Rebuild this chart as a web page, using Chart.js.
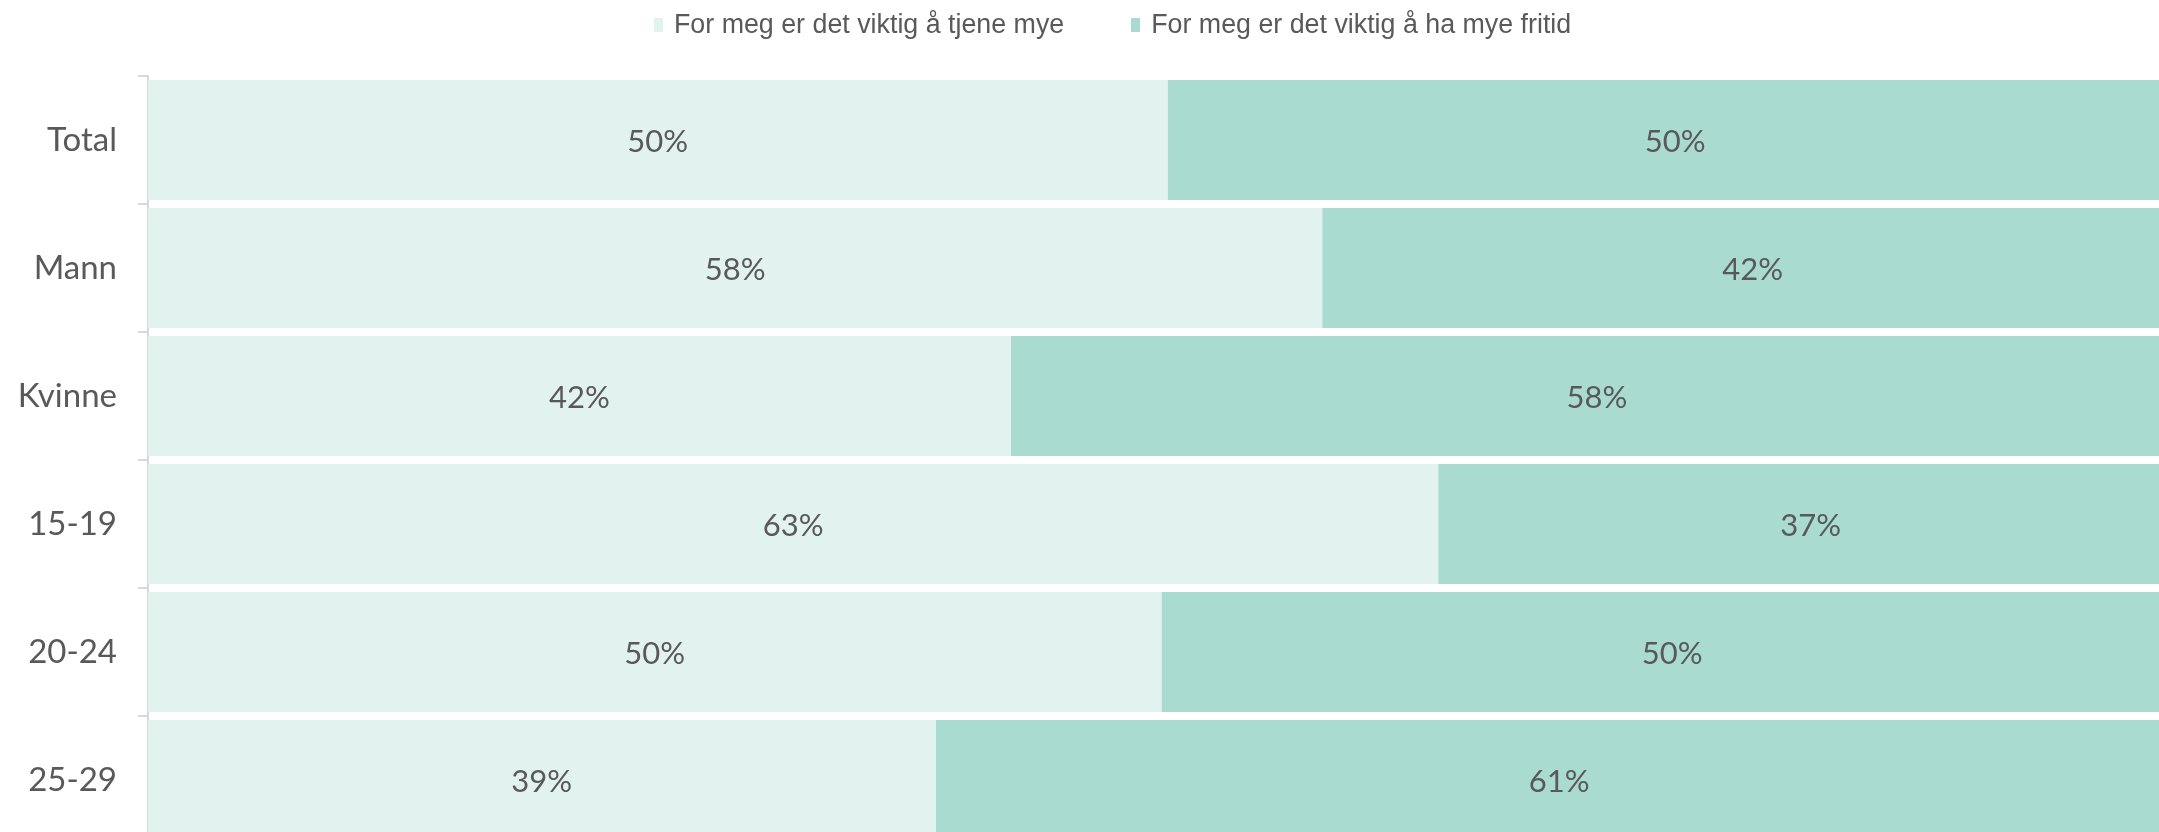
<!DOCTYPE html>
<html>
<head>
<meta charset="utf-8">
<script src="https://cdn.jsdelivr.net/npm/chart.js@4"></script>
<style>
    html, body { margin: 0; padding: 0; overflow: hidden; background: #fff; width: 2159px; height: 832px; }
    #wrap { position: relative; width: 2159px; height: 832px; overflow: hidden; }
    #chart { position: absolute; left: 0; top: 0; }
    #legend { position: absolute; top: 9px; left: 654px; display: flex; font-family: "Liberation Sans", Arial, sans-serif; font-size: 26.8px; color: #595959; }
    .item { display: flex; align-items: center; margin-right: 67px; white-space: nowrap; }
    .box { width: 9px; height: 14px; margin-right: 11px; }
</style>
</head>
<body>
<div id="wrap">
    <canvas id="chart" width="2183" height="844"></canvas>
    <div id="legend"></div>
</div>
<script>
const categories = ['Total', 'Mann', 'Kvinne', '15-19', '20-24', '25-29'];
const seriesNames = ['For meg er det viktig å tjene mye', 'For meg er det viktig å ha mye fritid'];
const tjeneMye = [50.1, 57.7, 42.4, 63.4, 49.8, 38.7];
const myeFritid = [49.9, 42.3, 57.6, 36.6, 50.2, 61.3];
const colors = ['#e2f2ee', '#aadbd1'];

// data labels centred in each segment
const segmentLabels = {
    id: 'segmentLabels',
    afterDatasetsDraw(chart) {
        const ctx = chart.ctx;
        ctx.save();
        ctx.font = '31px Lato, sans-serif';
        ctx.fillStyle = '#595959';
        ctx.textAlign = 'center';
        ctx.textBaseline = 'middle';
        chart.data.datasets.forEach((ds, i) => {
            chart.getDatasetMeta(i).data.forEach((bar, j) => {
                const x = (bar.x + bar.base) / 2;
                ctx.fillText(Math.round(ds.data[j]) + '%', x, bar.y + 2);
            });
        });
        ctx.restore();
    }
};

const chart = new Chart(document.getElementById('chart'), {
    type: 'bar',
    data: {
        labels: categories,
        datasets: [
            { label: seriesNames[0], data: tjeneMye, backgroundColor: colors[0] },
            { label: seriesNames[1], data: myeFritid, backgroundColor: colors[1] }
        ]
    },
    options: {
        indexAxis: 'y',
        responsive: false,
        animation: false,
        layout: { padding: { top: 76, left: 0, right: 0, bottom: 0 } },
        datasets: {
            bar: { categoryPercentage: 1, barPercentage: 0.9375 }
        },
        plugins: {
            legend: { display: false },
            tooltip: { enabled: false }
        },
        scales: {
            x: {
                stacked: true,
                display: false,
                min: 0,
                max: 100
            },
            y: {
                stacked: true,
                afterFit: (scale) => {
                    scale.width = 148;
                    scale.paddingTop = 0;
                    scale.paddingBottom = 0;
                },
                grid: {
                    offset: true,
                    drawOnChartArea: false,
                    tickLength: 10,
                    color: '#d9d9d9',
                    lineWidth: 2
                },
                border: { color: '#d9d9d9', width: 2 },
                ticks: {
                    padding: 21,
                    color: '#595959',
                    font: { family: 'Lato, sans-serif', size: 33 }
                }
            }
        }
    },
    plugins: [segmentLabels]
});

const legend = document.getElementById('legend');
chart.data.datasets.forEach(ds => {
    const item = document.createElement('div');
    item.className = 'item';
    item.innerHTML = `<span class="box" style="background:${ds.backgroundColor}"></span><span>${ds.label}</span>`;
    legend.appendChild(item);
});
</script>
</body>
</html>
